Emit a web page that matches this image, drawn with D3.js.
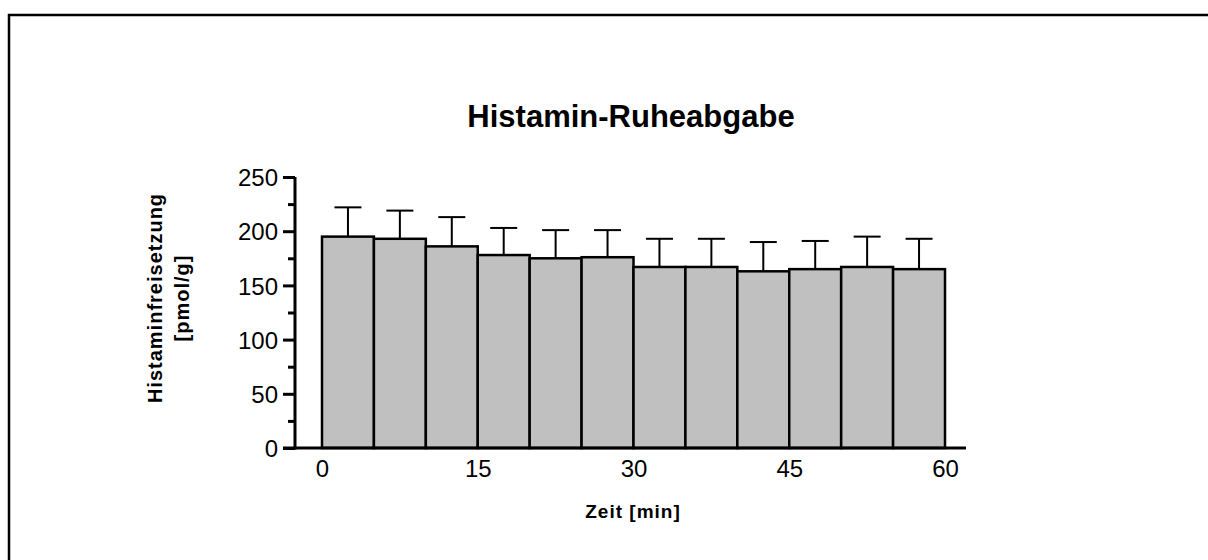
<!DOCTYPE html>
<html>
<head>
<meta charset="utf-8">
<script src="https://cdn.jsdelivr.net/npm/d3@7"></script>
<style>
  body { margin: 0; background: #fff; overflow: hidden; }
  svg { display: block; }
  svg text { font-family: Arial, "Liberation Sans", sans-serif; fill: #000; }
  .axis path.domain { display: none; }
  .axis line { stroke: #000; stroke-width: 3; }
  .axis text { font-size: 24px; }
  .bar { fill: #c0c0c0; stroke: #000; stroke-width: 2.5; }
  .err { stroke: #000; stroke-width: 2; }
</style>
</head>
<body>
<svg id="chart"></svg>
<script>
// bins of 5 min, start time of each bin
const binStart = [0, 5, 10, 15, 20, 25, 30, 35, 40, 45, 50, 55];
const binWidth = 5;
const meanValues = [195, 193, 186, 178, 175, 176, 167, 167, 163, 165, 167, 165];
const semValues = [27, 26, 27, 25, 26, 25, 26, 26, 27, 26, 28, 28];
const xTicks = [0, 15, 30, 45, 60];
const yTicks = [0, 50, 100, 150, 200, 250];
const yMinorTicks = [25, 75, 125, 175, 225];

class RestReleaseBarchart {

  constructor(_config) {
    this.config = {
      parentElement: _config.parentElement,
      containerWidth: 1208,
      containerHeight: 560,
      margin: {top: 177, right: 263, bottom: 112, left: 322}
    };
    this.initVis();
  }

  initVis() {
    let vis = this;
    vis.width = vis.config.containerWidth - vis.config.margin.left - vis.config.margin.right;
    vis.height = vis.config.containerHeight - vis.config.margin.top - vis.config.margin.bottom;

    vis.svg = d3.select(vis.config.parentElement)
        .attr('width', vis.config.containerWidth)
        .attr('height', vis.config.containerHeight);

    // outer frame: only top and left edges are inside the picture
    vis.svg.append('path')
        .attr('d', `M9,${vis.config.containerHeight}V15H${vis.config.containerWidth}`)
        .attr('fill', 'none')
        .attr('stroke', '#000')
        .attr('stroke-width', 2.5);

    vis.chart = vis.svg.append('g')
        .attr('transform', `translate(${vis.config.margin.left},${vis.config.margin.top})`);

    vis.xScale = d3.scaleLinear().domain([0, 60]).range([0, vis.width]);
    vis.yScale = d3.scaleLinear().domain([0, 250]).range([vis.height, 0]);

    vis.renderVis();
  }

  renderVis() {
    let vis = this;
    const axisX = -27;

    // bars
    vis.chart.selectAll('.bar')
        .data(meanValues)
      .join('rect')
        .attr('class', 'bar')
        .attr('x', (d, i) => vis.xScale(binStart[i]))
        .attr('width', vis.xScale(binWidth) - vis.xScale(0))
        .attr('y', d => vis.yScale(d))
        .attr('height', d => vis.height - vis.yScale(d));

    // error bars (upper only)
    const errG = vis.chart.selectAll('.errbar')
        .data(meanValues)
      .join('g')
        .attr('class', 'errbar')
        .attr('transform', (d, i) => `translate(${vis.xScale(binStart[i] + binWidth / 2)},0)`);
    errG.append('line').attr('class', 'err')
        .attr('x1', 0).attr('x2', 0)
        .attr('y1', d => vis.yScale(d))
        .attr('y2', (d, i) => vis.yScale(d + semValues[i]));
    errG.append('line').attr('class', 'err')
        .attr('x1', -13.5).attr('x2', 13.5)
        .attr('y1', (d, i) => vis.yScale(d + semValues[i]))
        .attr('y2', (d, i) => vis.yScale(d + semValues[i]));

    // y axis
    const yAxisG = vis.chart.append('g')
        .attr('class', 'axis y-axis')
        .attr('transform', `translate(${axisX},0)`)
        .call(d3.axisLeft(vis.yScale).tickValues(yTicks).tickSize(12).tickPadding(5));
    yAxisG.selectAll('text').attr('dy', '0.36em');
    vis.chart.append('g')
        .attr('class', 'axis')
        .attr('transform', `translate(${axisX},0)`)
        .call(d3.axisLeft(vis.yScale).tickValues(yMinorTicks).tickSize(7).tickFormat(''));
    vis.chart.append('line')
        .attr('x1', axisX).attr('x2', axisX)
        .attr('y1', vis.yScale(0) + 1.5).attr('y2', vis.yScale(250))
        .attr('stroke', '#000').attr('stroke-width', 3);

    // x axis
    vis.chart.append('g')
        .attr('class', 'axis x-axis')
        .attr('transform', `translate(0,${vis.height})`)
        .call(d3.axisBottom(vis.xScale).tickValues(xTicks).tickSize(0).tickPadding(12));
    vis.chart.append('line')
        .attr('x1', axisX - 12).attr('x2', vis.width + 21)
        .attr('y1', vis.height).attr('y2', vis.height)
        .attr('stroke', '#000').attr('stroke-width', 3);

    // titles
    vis.svg.append('text')
        .attr('x', 631).attr('y', 127)
        .attr('text-anchor', 'middle')
        .style('font-size', '31px').style('font-weight', 'bold')
        .text('Histamin-Ruheabgabe');

    vis.svg.append('text')
        .attr('x', 633).attr('y', 518)
        .attr('text-anchor', 'middle')
        .style('font-size', '19px').style('font-weight', 'bold')
        .style('letter-spacing', '1px')
        .text('Zeit [min]');

    const yTitle = vis.svg.append('text')
        .attr('transform', 'translate(0,298) rotate(-90)')
        .attr('text-anchor', 'middle')
        .style('font-size', '20px').style('font-weight', 'bold')
        .style('letter-spacing', '1px');
    yTitle.append('tspan').attr('x', 0).attr('y', 162).text('Histaminfreisetzung');
    yTitle.append('tspan').attr('x', 0).attr('y', 189).text('[pmol/g]');
  }
}

new RestReleaseBarchart({parentElement: '#chart'});
</script>
</body>
</html>
